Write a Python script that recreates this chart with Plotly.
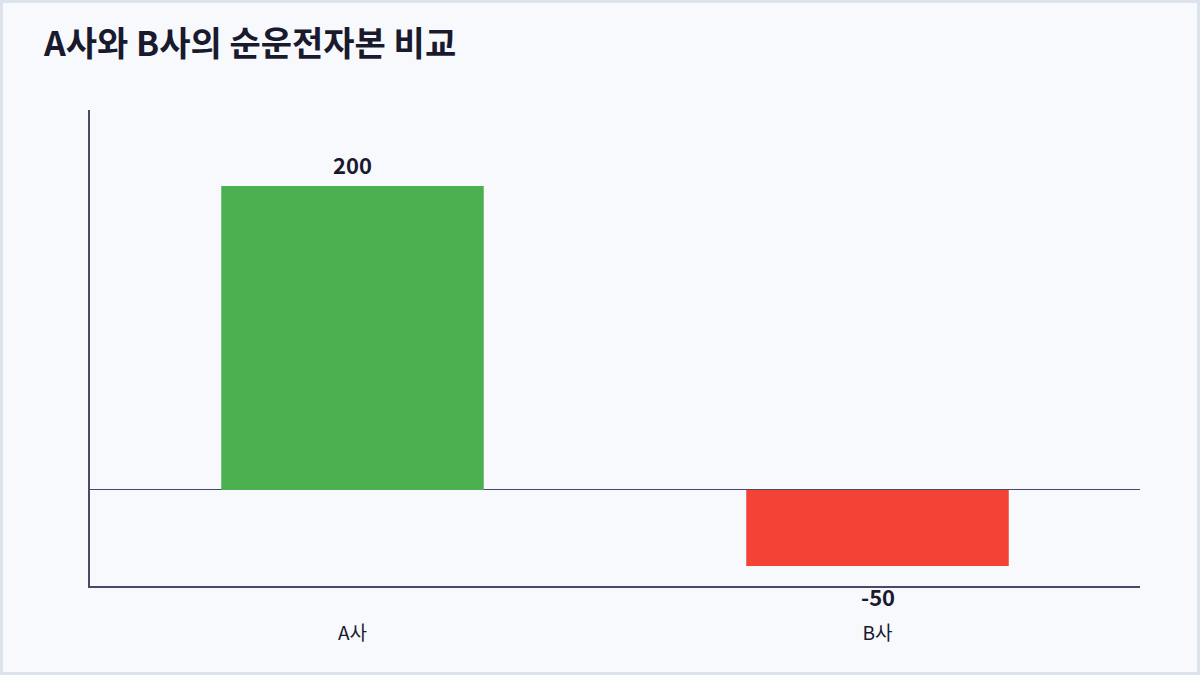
import plotly.graph_objects as go

companies = ['A사', 'B사']
working_capital = [200, -50]
bar_colors = ['#4caf50', '#f44336']
value_labels = ['200', '-50']

W, H = 1200, 675
ml, mr, mt, mb = 90, 60, 110, 89
FONT = 'Noto Sans CJK KR'

fig = go.Figure()
fig.add_trace(go.Bar(
  x = companies, y = working_capital,
  marker = dict(color = bar_colors, line = dict(width = 0)),
  hoverinfo = 'x+y',
))

# value labels just outside each bar end
for c, v, t in zip(companies, working_capital, value_labels):
  fig.add_annotation(
    x = c, y = v, text = f'<b>{t}</b>', showarrow = False,
    yanchor = 'bottom' if v >= 0 else 'top',
    yshift = 4 if v >= 0 else -12,
    font = dict(family = FONT, size = 22, color = '#1a1a2e'),
  )

# thin frame round the whole page
pw = W - ml - mr
ph = H - mt - mb
fig.add_shape(
  type = 'rect', xref = 'paper', yref = 'paper', layer = 'below',
  x0 = (1.5 - ml) / pw, x1 = (W - 1.5 - ml) / pw,
  y0 = (1.5 - mb) / ph, y1 = 1 + (mt - 1.5) / ph,
  line = dict(color = '#dde3ec', width = 3),
)

fig.update_layout(
  width = W, height = H,
  margin = dict(l = ml, r = mr, t = mt, b = mb),
  paper_bgcolor = '#f8f9fd', plot_bgcolor = '#f8f9fd',
  font = dict(family = FONT, color = '#1a1a2e'),
  title = dict(
    text = '<b>A사와 B사의 순운전자본 비교</b>',
    x = 44 / W, xanchor = 'left', y = 1 - 44 / H, yanchor = 'middle',
    font = dict(family = FONT, size = 34, color = '#1a1a2e'),
  ),
  bargap = 0.5,
  showlegend = False,
)
fig.update_xaxes(
  showline = True, linecolor = '#4a4a68', linewidth = 2,
  showgrid = False, ticks = '', ticklabelstandoff = 29,
  tickfont = dict(family = FONT, size = 19, color = '#1a1a2e'),
)
fig.update_yaxes(
  range = [-63.2, 250], showline = True, linecolor = '#4a4a68', linewidth = 2,
  showgrid = False, showticklabels = False, ticks = '',
  zeroline = True, zerolinecolor = '#4a4a68', zerolinewidth = 1,
)

fig.write_html('out.html', config = {'displayModeBar': False},
               post_script = "document.body.style.margin = '0';")
